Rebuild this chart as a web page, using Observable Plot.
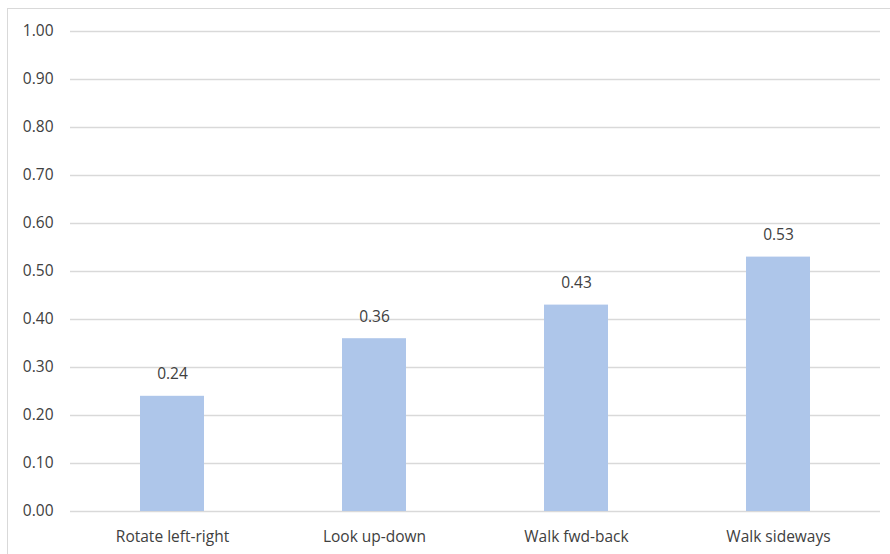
<!DOCTYPE html>
<html>
<head>
<meta charset="utf-8">
<script src="https://cdn.jsdelivr.net/npm/d3@7"></script>
<script src="https://cdn.jsdelivr.net/npm/@observablehq/plot@0.6"></script>
<style>
  html, body { margin: 0; padding: 0; background: #fff; overflow: hidden; }
  #wrap { position: relative; width: 890px; height: 554px; }
  #border { position: absolute; left: 7px; top: 8px; width: 900px; height: 600px;
            border: 1px solid #d9d9d9; box-sizing: border-box; pointer-events: none; }
  #chart { position: absolute; left: 0; top: 0; }
</style>
</head>
<body>
<div id="wrap">
  <div id="border"></div>
  <div id="chart"></div>
</div>
<script>
// Movement types and their scores
const categories = ["Rotate left-right", "Look up-down", "Walk fwd-back", "Walk sideways"];
const values = [0.24, 0.36, 0.43, 0.53];
const yTicks = [0, 0.1, 0.2, 0.3, 0.4, 0.5, 0.6, 0.7, 0.8, 0.9, 1.0];

const data = categories.map((c, i) => ({category: c, value: values[i]}));

const chart = Plot.plot({
  width: 890,
  height: 554,
  marginLeft: 70,
  marginRight: 10,
  marginTop: 31,
  marginBottom: 43,
  style: {fontFamily: "'Open Sans', sans-serif", fontSize: "15.5px", color: "#404040", background: "transparent"},
  x: {domain: categories, paddingInner: 0.684, paddingOuter: 0.342, label: null},
  y: {domain: [0, 1], label: null},
  marks: [
    Plot.ruleY(yTicks, {stroke: "#d9d9d9", strokeWidth: 1.6}),
    Plot.barY(data, {x: "category", y: "value", fill: "#aec6ea"}),
    Plot.text(data, {x: "category", y: "value", text: d => d.value.toFixed(2),
      lineAnchor: "bottom", dy: -17, fill: "#404040", fontSize: 15.5}),
    Plot.axisY({ticks: yTicks, tickSize: 0, tickPadding: 17, tickFormat: d => d.toFixed(2), label: null, fill: "#404040", fontSize: 15.5}),
    Plot.axisX({tickSize: 0, tickPadding: 19, label: null, fill: "#404040", fontSize: 15.5})
  ]
});
document.getElementById("chart").appendChild(chart);
</script>
</body>
</html>
